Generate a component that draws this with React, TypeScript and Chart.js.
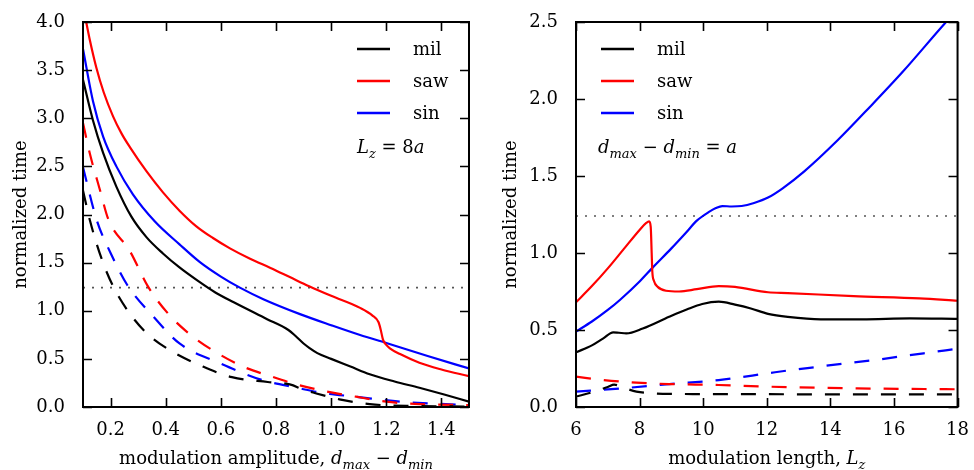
import React, { useEffect, useRef } from "react";
import { Chart, registerables } from "chart.js";

Chart.register(...registerables);

const FONT = '"DejaVu Serif", serif';
const FS = 18;

// ---------- tick values ----------
const ampXTicks = [0.2, 0.4, 0.6, 0.8, 1.0, 1.2, 1.4];
const ampYTicks = [0, 0.5, 1, 1.5, 2, 2.5, 3, 3.5, 4];
const lenXTicks = [6, 8, 10, 12, 14, 16, 18];
const lenYTicks = [0, 0.5, 1, 1.5, 2, 2.5];
const refTime = 1.24;

const seriesNames = ["mil", "saw", "sin"];
const seriesColors = ["#000000", "#ff0000", "#0000ff"];

// ---------- left panel: vs modulation amplitude (L_z = 8a) ----------
const milAmpX = [0.1, 0.136, 0.173, 0.221, 0.275, 0.33, 0.39, 0.45, 0.517, 0.58, 0.645, 0.766, 0.845, 0.87, 0.9, 0.923, 0.95, 1.0, 1.07, 1.14, 1.23, 1.32, 1.41, 1.5];
const milAmpY = [3.4, 2.98, 2.64, 2.29, 1.98, 1.765, 1.595, 1.45, 1.31, 1.19, 1.09, 0.915, 0.8, 0.74, 0.66, 0.61, 0.56, 0.5, 0.42, 0.34, 0.265, 0.2, 0.13, 0.055];

const sawAmpX = [0.1, 0.125, 0.148, 0.175, 0.209, 0.24, 0.27, 0.33, 0.39, 0.45, 0.51, 0.57, 0.633, 0.706, 0.78, 0.85, 0.92, 1.0, 1.105, 1.15, 1.172, 1.18, 1.188, 1.2, 1.213, 1.25, 1.32, 1.4, 1.5];
const sawAmpY = [4.17, 3.81, 3.53, 3.27, 3.02, 2.84, 2.7, 2.45, 2.23, 2.04, 1.88, 1.758, 1.648, 1.54, 1.445, 1.35, 1.255, 1.155, 1.03, 0.95, 0.88, 0.8, 0.7, 0.645, 0.61, 0.55, 0.46, 0.39, 0.32];

const sinAmpX = [0.1, 0.136, 0.173, 0.221, 0.281, 0.36, 0.45, 0.524, 0.6, 0.669, 0.754, 0.887, 1.0, 1.105, 1.2, 1.35, 1.5];
const sinAmpY = [3.72, 3.18, 2.81, 2.5, 2.21, 1.93, 1.69, 1.505, 1.355, 1.24, 1.12, 0.965, 0.85, 0.748, 0.665, 0.53, 0.4];

const milAmpDX = [0.1, 0.125, 0.17, 0.21, 0.27, 0.33, 0.415, 0.535, 0.64, 0.77, 0.85, 0.9, 0.935, 1.03, 1.14, 1.3, 1.5];
const milAmpDY = [2.25, 1.94, 1.52, 1.25, 0.97, 0.77, 0.59, 0.42, 0.31, 0.26, 0.235, 0.18, 0.15, 0.08, 0.03, 0.01, 0.005];

const sawAmpDX = [0.1, 0.125, 0.162, 0.192, 0.27, 0.336, 0.415, 0.49, 0.57, 0.68, 0.78, 0.88, 0.985, 1.09, 1.2, 1.32, 1.5];
const sawAmpDY = [2.95, 2.63, 2.25, 1.95, 1.62, 1.25, 0.95, 0.75, 0.59, 0.42, 0.32, 0.23, 0.16, 0.107, 0.055, 0.03, 0.02];

const sinAmpDX = [0.1, 0.15, 0.2, 0.26, 0.355, 0.45, 0.6, 0.75, 0.876, 0.97, 1.09, 1.25, 1.5];
const sinAmpDY = [2.49, 1.94, 1.6, 1.27, 0.94, 0.66, 0.45, 0.28, 0.2, 0.145, 0.107, 0.055, 0.02];

// ---------- right panel: vs modulation length (d_max - d_min = a) ----------
const milLenX = [6.0, 6.5, 6.86, 7.17, 7.35, 7.58, 8.1, 8.93, 9.5, 9.97, 10.49, 11.0, 11.5, 12.04, 12.66, 13.7, 15.0, 16.5, 18.0];
const milLenY = [0.355, 0.4, 0.446, 0.485, 0.482, 0.478, 0.51, 0.586, 0.635, 0.669, 0.684, 0.665, 0.64, 0.605, 0.585, 0.569, 0.569, 0.575, 0.572];

const sawLenX = [6.0, 6.5, 7.0, 7.5, 8.0, 8.21, 8.3, 8.35, 8.38, 8.4, 8.45, 8.57, 8.83, 9.24, 9.8, 10.49, 11.0, 12.04, 12.66, 14.73, 16.8, 18.0];
const sawLenY = [0.68, 0.785, 0.9, 1.025, 1.15, 1.195, 1.205, 1.17, 1.0, 0.88, 0.82, 0.78, 0.755, 0.75, 0.765, 0.785, 0.78, 0.745, 0.74, 0.72, 0.705, 0.69];

const sinLenX = [6.0, 6.5, 7.0, 7.38, 8.0, 8.41, 9.0, 9.45, 9.8, 10.17, 10.4, 10.6, 10.9, 11.21, 11.6, 12.04, 12.5, 13.18, 14.22, 15.25, 16.29, 17.64, 18.0];
const sinLenY = [0.49, 0.555, 0.63, 0.695, 0.815, 0.905, 1.03, 1.13, 1.21, 1.265, 1.292, 1.305, 1.302, 1.305, 1.325, 1.36, 1.42, 1.53, 1.73, 1.95, 2.18, 2.5, 2.58];

const milLenDX = [6.0, 6.5, 7.0, 7.2, 7.5, 7.9, 8.4, 9.0, 10.0, 12.0, 14.0, 16.0, 18.0];
const milLenDY = [0.067, 0.095, 0.13, 0.145, 0.125, 0.1, 0.089, 0.085, 0.084, 0.083, 0.082, 0.082, 0.082];

const sawLenDX = [6.0, 6.86, 7.9, 8.93, 10.49, 12.04, 14.84, 18.0];
const sawLenDY = [0.197, 0.175, 0.158, 0.149, 0.143, 0.132, 0.121, 0.115];

const sinLenDX = [6.0, 7.38, 8.93, 10.49, 12.04, 12.63, 13.56, 14.5, 15.4, 16.3, 17.24, 18.0];
const sinLenDY = [0.1, 0.12, 0.149, 0.175, 0.219, 0.236, 0.26, 0.284, 0.305, 0.331, 0.357, 0.378];

// ---------- helpers ----------
type Part = { t: string; it?: boolean; sub?: boolean };

function fontOf(p: Part) {
  return `${p.it ? "italic " : ""}${p.sub ? Math.round(FS * 0.72) : FS}px ${FONT}`;
}

function drawRich(ctx: CanvasRenderingContext2D, parts: Part[], x: number, y: number, align: "left" | "center") {
  let w = 0;
  parts.forEach((p) => {
    ctx.font = fontOf(p);
    w += ctx.measureText(p.t).width;
  });
  let cx = align === "center" ? x - w / 2 : x;
  ctx.textAlign = "left";
  ctx.textBaseline = "alphabetic";
  parts.forEach((p) => {
    ctx.font = fontOf(p);
    ctx.fillText(p.t, cx, p.sub ? y + FS * 0.28 : y);
    cx += ctx.measureText(p.t).width;
  });
}

const pts = (xs: number[], ys: number[]) => xs.map((x, i) => ({ x, y: ys[i] }));

interface PanelCfg {
  left: number;
  solid: [number[], number[]][];
  dashed: [number[], number[]][];
  xMin: number;
  xMax: number;
  yMin: number;
  yMax: number;
  xTicks: number[];
  yTicks: number[];
  xDec: number;
  yAxisWidth: number;
  padRight: number;
  legendX: number;
  annX: number;
  annParts: Part[];
  xTitle: Part[];
  yTitleX: number;
}

function makePlugin(cfg: PanelCfg) {
  return {
    id: "frameTicks",
    afterDatasetsDraw(chart: any) {
      const { ctx, chartArea: a, scales } = chart;
      const xs = scales.x;
      const ys = scales.y;
      ctx.save();
      ctx.strokeStyle = "#000";
      ctx.lineWidth = 1.6;
      const tl = 9;
      ctx.beginPath();
      xs.ticks.forEach((t: any) => {
        const px = Math.round(xs.getPixelForValue(t.value)) + 0.5;
        ctx.moveTo(px, a.bottom);
        ctx.lineTo(px, a.bottom - tl);
        ctx.moveTo(px, a.top);
        ctx.lineTo(px, a.top + tl);
      });
      ys.ticks.forEach((t: any) => {
        const py = Math.round(ys.getPixelForValue(t.value)) + 0.5;
        ctx.moveTo(a.left, py);
        ctx.lineTo(a.left + tl, py);
        ctx.moveTo(a.right, py);
        ctx.lineTo(a.right - tl, py);
      });
      ctx.stroke();
      ctx.lineWidth = 2;
      ctx.strokeRect(a.left, a.top, a.right - a.left, a.bottom - a.top);

      // legend
      const rows = [a.top + 27, a.top + 59, a.top + 91];
      seriesNames.forEach((name, i) => {
        ctx.strokeStyle = seriesColors[i];
        ctx.lineWidth = 2.6;
        ctx.beginPath();
        ctx.moveTo(cfg.legendX, rows[i]);
        ctx.lineTo(cfg.legendX + 33, rows[i]);
        ctx.stroke();
        ctx.fillStyle = "#000";
        ctx.font = `${FS}px ${FONT}`;
        ctx.textAlign = "left";
        ctx.textBaseline = "middle";
        ctx.fillText(name, cfg.legendX + 56, rows[i] + 1);
      });

      // annotation
      ctx.fillStyle = "#000";
      drawRich(ctx, cfg.annParts, cfg.annX, a.top + 131, "left");

      // x title
      drawRich(ctx, cfg.xTitle, (a.left + a.right) / 2, 464, "center");

      // y title
      ctx.save();
      ctx.translate(cfg.yTitleX, (a.top + a.bottom) / 2);
      ctx.rotate(-Math.PI / 2);
      ctx.font = `${FS}px ${FONT}`;
      ctx.textAlign = "center";
      ctx.textBaseline = "middle";
      ctx.fillText("normalized time", 0, 0);
      ctx.restore();

      ctx.restore();
    },
  };
}

function Panel({ cfg }: { cfg: PanelCfg }) {
  const ref = useRef<HTMLCanvasElement>(null);
  useEffect(() => {
    const datasets: any[] = [];
    cfg.solid.forEach(([xs, ys], i) => {
      datasets.push({
        label: seriesNames[i],
        data: pts(xs, ys),
        borderColor: seriesColors[i],
        borderWidth: 2.2,
        pointRadius: 0,
        cubicInterpolationMode: "monotone",
        clip: 0,
      });
    });
    cfg.dashed.forEach(([xs, ys], i) => {
      datasets.push({
        label: seriesNames[i] + " dashed",
        data: pts(xs, ys),
        borderColor: seriesColors[i],
        borderWidth: 2.2,
        borderDash: [15, 13],
        borderCapStyle: "butt",
        pointRadius: 0,
        cubicInterpolationMode: "monotone",
        clip: 0,
      });
    });
    datasets.push({
      label: "reference",
      data: [
        { x: cfg.xMin, y: refTime },
        { x: cfg.xMax, y: refTime },
      ],
      borderColor: "#555555",
      borderWidth: 1.6,
      borderDash: [2, 7],
      pointRadius: 0,
      clip: 0,
    });

    const tickFont = { family: FONT, size: FS };
    const chart = new Chart(ref.current!, {
      type: "line",
      data: { datasets },
      options: {
        animation: false,
        responsive: true,
        maintainAspectRatio: false,
        layout: { padding: { left: 0, right: cfg.padRight, top: 22, bottom: 0 } },
        plugins: { legend: { display: false }, tooltip: { enabled: false }, title: { display: false } },
        scales: {
          x: {
            type: "linear",
            min: cfg.xMin,
            max: cfg.xMax,
            grid: { display: false },
            border: { display: false },
            afterBuildTicks: (s: any) => {
              s.ticks = cfg.xTicks.map((v) => ({ value: v }));
            },
            afterFit: (s: any) => {
              s.height = 63;
            },
            ticks: {
              color: "#000",
              font: tickFont,
              padding: 5,
              maxRotation: 0,
              autoSkip: false,
              callback: (v: any) => Number(v).toFixed(cfg.xDec),
            },
          },
          y: {
            type: "linear",
            min: cfg.yMin,
            max: cfg.yMax,
            grid: { display: false },
            border: { display: false },
            afterBuildTicks: (s: any) => {
              s.ticks = cfg.yTicks.map((v) => ({ value: v }));
            },
            afterFit: (s: any) => {
              s.width = cfg.yAxisWidth;
            },
            ticks: {
              color: "#000",
              font: tickFont,
              padding: 10,
              autoSkip: false,
              callback: (v: any) => Number(v).toFixed(1),
            },
          },
        },
      },
      plugins: [makePlugin(cfg) as any],
    });
    return () => chart.destroy();
  }, []);
  return (
    <div style={{ position: "absolute", left: cfg.left, top: 0, width: 487, height: 470 }}>
      <canvas ref={ref} />
    </div>
  );
}

const leftCfg: PanelCfg = {
  left: 0,
  solid: [
    [milAmpX, milAmpY],
    [sawAmpX, sawAmpY],
    [sinAmpX, sinAmpY],
  ],
  dashed: [
    [milAmpDX, milAmpDY],
    [sawAmpDX, sawAmpDY],
    [sinAmpDX, sinAmpDY],
  ],
  xMin: 0.1,
  xMax: 1.5,
  yMin: 0,
  yMax: 4,
  xTicks: ampXTicks,
  yTicks: ampYTicks,
  xDec: 1,
  yAxisWidth: 83,
  padRight: 18,
  legendX: 357,
  annX: 357,
  annParts: [{ t: "L", it: true }, { t: "z", it: true, sub: true }, { t: " = 8" }, { t: "a", it: true }],
  xTitle: [
    { t: "modulation amplitude, " },
    { t: "d", it: true },
    { t: "max", it: true, sub: true },
    { t: " \u2212 " },
    { t: "d", it: true },
    { t: "min", it: true, sub: true },
  ],
  yTitleX: 21,
};

const rightCfg: PanelCfg = {
  left: 487,
  solid: [
    [milLenX, milLenY],
    [sawLenX, sawLenY],
    [sinLenX, sinLenY],
  ],
  dashed: [
    [milLenDX, milLenDY],
    [sawLenDX, sawLenDY],
    [sinLenDX, sinLenDY],
  ],
  xMin: 6,
  xMax: 18,
  yMin: 0,
  yMax: 2.5,
  xTicks: lenXTicks,
  yTicks: lenYTicks,
  xDec: 0,
  yAxisWidth: 89,
  padRight: 12,
  legendX: 114,
  annX: 111,
  annParts: [
    { t: "d", it: true },
    { t: "max", it: true, sub: true },
    { t: " \u2212 " },
    { t: "d", it: true },
    { t: "min", it: true, sub: true },
    { t: " = " },
    { t: "a", it: true },
  ],
  xTitle: [{ t: "modulation length, " }, { t: "L", it: true }, { t: "z", it: true, sub: true }],
  yTitleX: 24,
};

export default function App() {
  return (
    <div style={{ position: "absolute", left: 0, top: 0, width: 974, height: 470, background: "#fff" }}>
      <Panel cfg={leftCfg} />
      <Panel cfg={rightCfg} />
    </div>
  );
}
